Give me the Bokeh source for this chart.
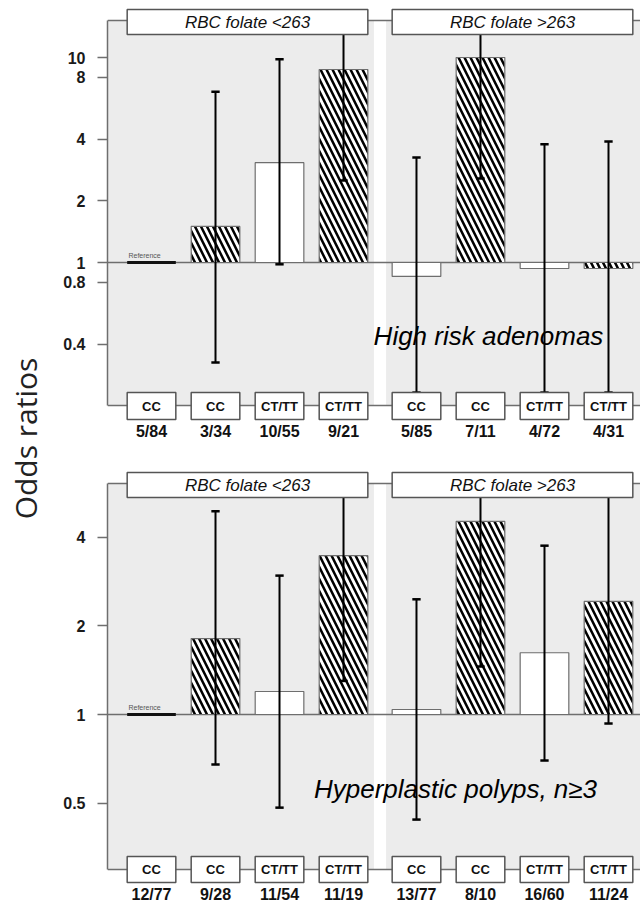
import numpy as np
from bokeh.plotting import figure
from bokeh.models import Range1d, FixedTicker, NumeralTickFormatter
from bokeh.layouts import row, column
from bokeh.core.properties import value
from bokeh.embed import file_html
from bokeh.resources import INLINE

# ---------------- data ----------------
groups = ["RBC folate <263", "RBC folate >263"]
genotypes = ["CC", "CC", "CT/TT", "CT/TT", "CC", "CC", "CT/TT", "CT/TT"]
hatched = [False, True, False, True, False, True, False, True]
is_reference = [True, False, False, False, False, False, False, False]

hra_title = "High risk adenomas"
hra_counts = ["5/84", "3/34", "10/55", "9/21", "5/85", "7/11", "4/72", "4/31"]
hra_or = [1.0, 1.5, 3.07, 8.74, 0.855, 10.0, 0.935, 0.935]
hra_lo = [1.0, 0.325, 0.98, 2.51, 0.232, 2.57, 0.232, 0.232]
hra_hi = [1.0, 6.8, 9.8, 16.0, 3.25, 16.0, 3.77, 3.89]
hra_ticks = [0.4, 0.8, 1, 2, 4, 8, 10]

hp_title = "Hyperplastic polyps, n\u22653"
hp_counts = ["12/77", "9/28", "11/54", "11/19", "13/77", "8/10", "16/60", "11/24"]
hp_or = [1.0, 1.81, 1.197, 3.46, 1.04, 4.52, 1.62, 2.42]
hp_lo = [1.0, 0.677, 0.483, 1.30, 0.44, 1.455, 0.698, 0.932]
hp_hi = [1.0, 4.89, 2.96, 6.4, 2.46, 6.4, 3.74, 6.4]
hp_ticks = [0.5, 1, 2, 4]

# ---------------- layout constants ----------------
GROUP_GAP = 0.14
BAR_W = 0.76
X0, X1 = -0.6875, 7.64
HALF_GAP = 0.095
HEAD_HALF = 1.88
CAP = 0.065
GRAY_BG = "#ECECEC"
LINE_C = "#6E6E6E"
FONT = value("Liberation Sans")

xs = [i + (GROUP_GAP if i >= 4 else 0.0) for i in range(len(genotypes))]
group_centers = [np.mean(xs[0:4]), np.mean(xs[4:8])]
mid = (xs[3] + xs[4]) / 2


def panel(height, y_one, ppd, axis_top, axis_bot, head, boxes, count_y,
          title, title_x, title_y, ors, los, his, counts, ticks):
    def val(px):
        return 10 ** ((y_one - px) / ppd)

    lo_ax, hi_ax = val(axis_bot), val(axis_top)
    p = figure(width=592, height=height, x_range=Range1d(X0, X1),
               y_range=Range1d(val(height), val(0)), y_axis_type="log",
               output_backend="svg", toolbar_location=None,
               x_axis_location=None, min_border_left=59, min_border_right=0,
               min_border_top=0, min_border_bottom=0)
    p.outline_line_color = None
    p.grid.visible = False
    p.background_fill_color = "white"
    p.border_fill_color = "white"

    ax = p.yaxis[0]
    ax.ticker = FixedTicker(ticks=ticks)
    ax.formatter = NumeralTickFormatter(format="0.[0]")
    ax.bounds = (lo_ax, hi_ax)
    ax.axis_line_color = LINE_C
    ax.axis_line_width = 1.5
    ax.major_tick_line_color = LINE_C
    ax.major_tick_line_width = 1.5
    ax.major_tick_out = 10
    ax.major_tick_in = 0
    ax.minor_tick_line_color = None
    ax.major_label_standoff = 12
    ax.major_label_text_font = "Liberation Sans"
    ax.major_label_text_font_style = "bold"
    ax.major_label_text_font_size = "16px"
    ax.major_label_text_color = "#1a1a1a"

    # gray backgrounds for the two folate groups
    p.quad(left=[X0, mid + HALF_GAP], right=[mid - HALF_GAP, X1],
           bottom=[lo_ax, lo_ax], top=[hi_ax, hi_ax],
           fill_color=GRAY_BG, line_color=None)

    # frame lines: top, bottom, and reference level 1
    p.segment(x0=[X0] * 3, x1=[X1] * 3, y0=[hi_ax, lo_ax, 1.0], y1=[hi_ax, lo_ax, 1.0],
              line_color=LINE_C, line_width=1.5)

    # bars
    idx = [i for i in range(len(xs)) if not is_reference[i]]
    plain = [i for i in idx if not hatched[i]]
    hat = [i for i in idx if hatched[i]]
    p.vbar(x=[xs[i] for i in plain], width=BAR_W, top=[ors[i] for i in plain], bottom=1.0,
           fill_color="white", line_color=LINE_C, line_width=1.2)
    p.vbar(x=[xs[i] for i in hat], width=BAR_W, top=[ors[i] for i in hat], bottom=1.0,
           fill_color="white", line_color=LINE_C, line_width=1.2,
           hatch_pattern="\\", hatch_color="black", hatch_weight=2.5, hatch_scale=12)

    # reference marker
    ref = [i for i in range(len(xs)) if is_reference[i]]
    p.segment(x0=[xs[i] - BAR_W / 2 for i in ref], x1=[xs[i] + BAR_W / 2 for i in ref],
              y0=[ors[i] for i in ref], y1=[ors[i] for i in ref],
              line_color="#111111", line_width=3)
    p.text(x=[xs[i] - BAR_W / 2 + 0.02 for i in ref], y=[ors[i] * 10 ** (7 / ppd) for i in ref],
           text=["Reference"] * len(ref), text_font=FONT, text_font_size="7px",
           text_color="#555555", text_baseline="middle", text_align="left")

    # error bars
    ex = [xs[i] for i in idx]
    p.segment(x0=ex, x1=ex, y0=[los[i] for i in idx], y1=[his[i] for i in idx],
              line_color="black", line_width=2)
    p.segment(x0=[x - CAP for x in ex] * 2, x1=[x + CAP for x in ex] * 2,
              y0=[los[i] for i in idx] + [his[i] for i in idx],
              y1=[los[i] for i in idx] + [his[i] for i in idx],
              line_color="black", line_width=2.5)

    # group header boxes
    p.quad(left=[c - HEAD_HALF for c in group_centers], right=[c + HEAD_HALF for c in group_centers],
           bottom=[val(head[1])] * 2, top=[val(head[0])] * 2,
           fill_color="white", line_color="#555555", line_width=1.5)
    p.text(x=group_centers, y=[val((head[0] + head[1]) / 2)] * 2, text=groups,
           text_font=FONT, text_font_style="italic", text_font_size="17px",
           text_align="center", text_baseline="middle", text_color="#111111")

    # genotype boxes
    p.quad(left=[x - BAR_W / 2 for x in xs], right=[x + BAR_W / 2 for x in xs],
           bottom=[val(boxes[1])] * len(xs), top=[val(boxes[0])] * len(xs),
           fill_color="white", line_color="#555555", line_width=1.5)
    p.text(x=xs, y=[val((boxes[0] + boxes[1]) / 2)] * len(xs), text=genotypes,
           text_font=FONT, text_font_style="bold", text_font_size="13px",
           text_align="center", text_baseline="middle", text_color="#111111")
    p.text(x=xs, y=[val(count_y)] * len(xs), text=counts,
           text_font=FONT, text_font_style="bold", text_font_size="16px",
           text_align="center", text_baseline="middle", text_color="#111111")

    # panel title
    p.text(x=[title_x], y=[val(title_y)], text=[title], text_font=FONT,
           text_font_style="italic", text_font_size="26px",
           text_align="center", text_baseline="middle", text_color="black")
    return p


p1 = panel(440, 262, 205.0, 20, 405, (9, 34), (392, 419), 431,
           hra_title, 5.265, 335, hra_or, hra_lo, hra_hi, hra_counts, hra_ticks)
p2 = panel(463, 274, 294.7, 43, 429, (32, 57), (416, 442), 454,
           hp_title, 4.75, 348, hp_or, hp_lo, hp_hi, hp_counts, hp_ticks)

lab = figure(width=48, height=903, x_range=Range1d(0, 48), y_range=Range1d(0, 903),
             x_axis_location=None, y_axis_location=None, min_border=0,
             toolbar_location=None, output_backend="svg")
lab.outline_line_color = None
lab.grid.visible = False
lab.text(x=[25], y=[465], text=["Odds ratios"], angle=np.pi / 2,
         text_font=value("Open Sans"), text_font_size="30px",
         text_align="center", text_baseline="middle", text_color="#222222")

layout = row(lab, column(p1, p2, spacing=0), spacing=0)
open("out.html", "w").write(file_html(layout, INLINE))
